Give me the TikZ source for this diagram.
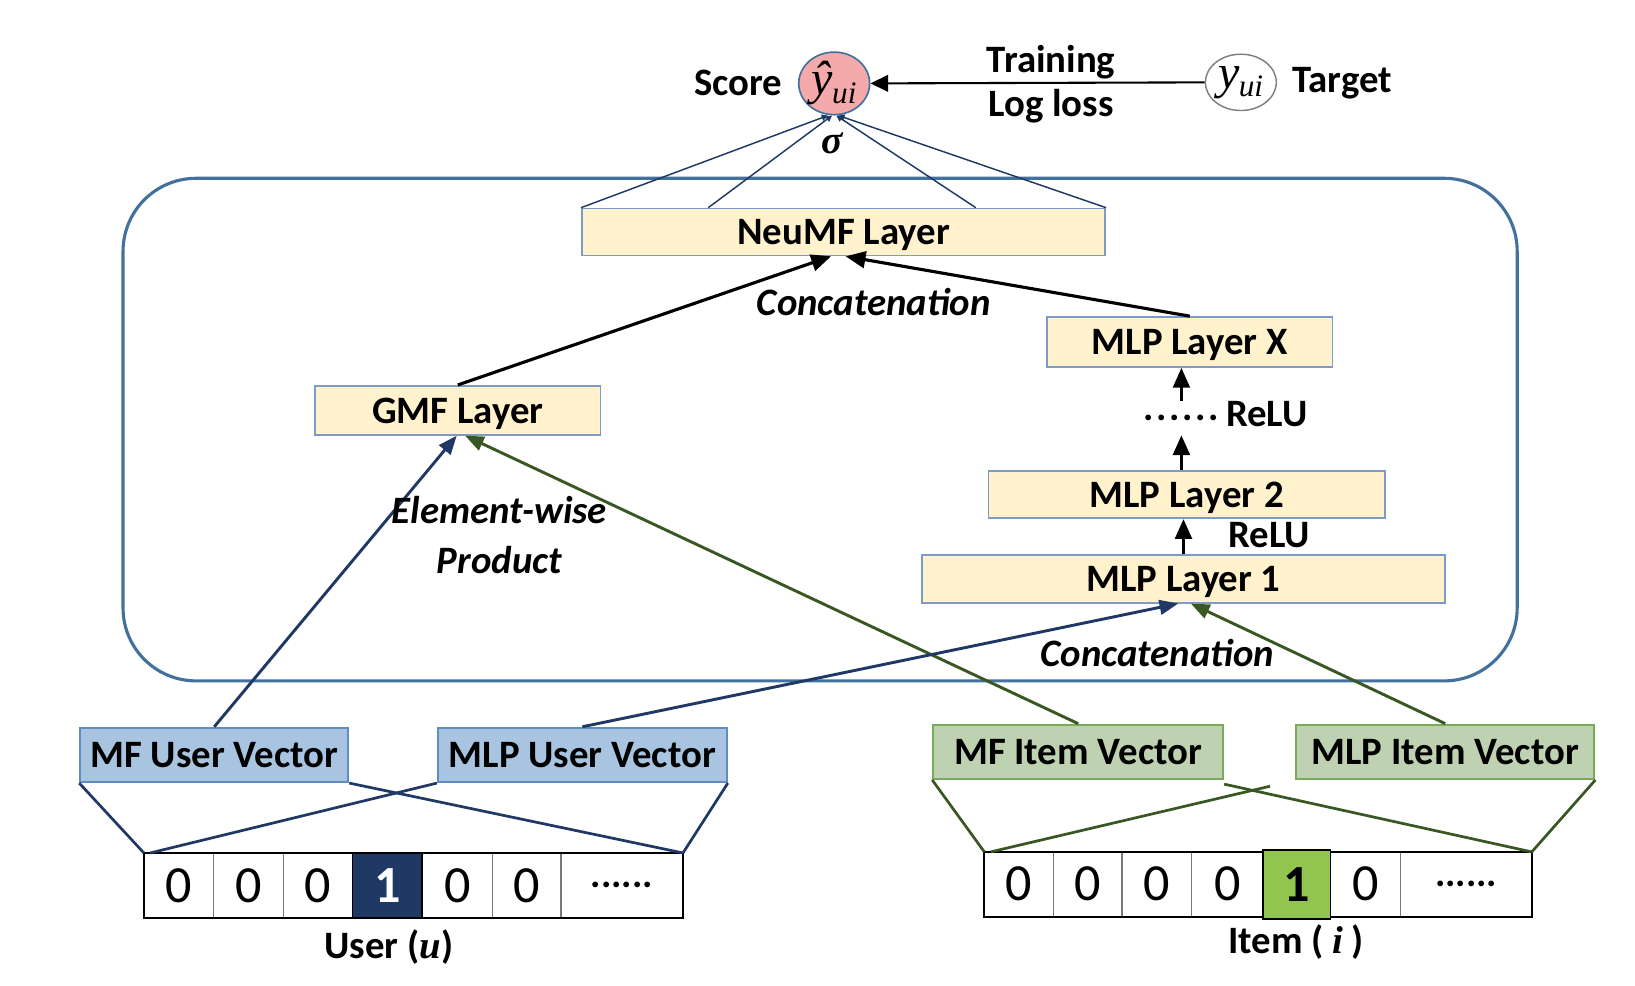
\documentclass[tikz,border=0pt]{standalone}
\usepackage{fontspec}
\setmainfont{Carlito}
\newfontfamily\tms{Liberation Serif}
\usetikzlibrary{arrows.meta,shapes.geometric,calc}
\definecolor{bigb}{RGB}{65,113,156}
\definecolor{layerf}{RGB}{255,242,204}
\definecolor{layerb}{RGB}{125,155,200}
\definecolor{uvecf}{RGB}{169,196,224}
\definecolor{uvecb}{RGB}{95,140,195}
\definecolor{ivecf}{RGB}{190,210,178}
\definecolor{ivecb}{RGB}{120,170,90}
\definecolor{navy}{RGB}{31,56,100}
\definecolor{dgreen}{RGB}{56,87,35}
\definecolor{pinkf}{RGB}{244,170,170}
\definecolor{onegreen}{RGB}{146,196,80}
\definecolor{cellg}{RGB}{120,120,120}
\newcommand\lblfont{\fontsize{18.6}{22}\selectfont\bfseries}
\newcommand\itlfont{\fontsize{18.6}{22}\selectfont\bfseries\itshape}
\newcommand\cellfont{\fontsize{25}{27}\selectfont}
\tikzset{
  lbl/.style={font=\lblfont, inner sep=0pt},
  itl/.style={font=\itlfont, inner sep=0pt, align=center},
  layer/.style={draw=layerb, fill=layerf, line width=0.8pt, inner sep=0pt, text depth=0pt, font=\lblfont},
  uvec/.style={draw=uvecb, fill=uvecf, line width=1pt, inner sep=0pt, text depth=0pt, minimum height=26pt, font=\lblfont},
  ivec/.style={draw=ivecb, fill=ivecf, line width=1pt, inner sep=0pt, text depth=0pt, minimum height=26pt, font=\lblfont},
  cell/.style={draw=cellg, line width=0.6pt, inner sep=0pt, outer sep=0pt, minimum height=31pt, font=\cellfont},
  blk/.style={line width=1.5pt, -{Triangle[length=9.5pt,width=8pt]}},
  nav/.style={draw=navy, line width=1.4pt, -{Triangle[length=9pt,width=7pt]}},
  grn/.style={draw=dgreen, line width=1.4pt, -{Triangle[length=9pt,width=7pt]}},
  fan/.style={draw=navy, line width=0.7pt, -{Triangle[length=3pt,width=3pt]}},
  nline/.style={draw=navy, line width=1.3pt},
  gline/.style={draw=dgreen, line width=1.3pt},
}
\begin{document}
\begin{tikzpicture}[x=0.5pt,y=-0.5pt]
\useasboundingbox (0,0) rectangle (1568,945);
% big container
\draw[bigb, line width=1.5pt, rounded corners=35pt] (118,171) rectangle (1455,653);

% top: score / target
\node[ellipse, draw=bigb, fill=pinkf, line width=0.8pt, minimum width=34pt, minimum height=30pt, inner sep=0pt] (score) at (800,80)
  {\tms\itshape\fontsize{23}{23}\selectfont ŷ\kern-0.5pt\raisebox{-4pt}{\fontsize{15}{15}\selectfont ui}};
\node[ellipse, draw=gray, fill=white, line width=0.7pt, minimum width=34pt, minimum height=27pt, inner sep=0pt] (target) at (1190,79)
  {\tms\itshape\fontsize{23}{23}\selectfont y\kern-0.5pt\raisebox{-4pt}{\fontsize{15}{15}\selectfont ui}};
\node[lbl] (scorelbl) at (708,80) {Score};
\node[lbl] (targetlbl) at (1287,80) {Target};
\node[lbl] (training) at (1008,60) {Training};
\node[lbl] (logloss) at (1008,102) {Log loss};
\draw[line width=1pt, -{Triangle[length=8.5pt,width=8pt]}] (target.west) -- (score.east);
\node[inner sep=0pt, font={\tms\bfseries\itshape\fontsize{19}{19}\selectfont}] (sigma) at (798,137) {σ};

% layers
\node[layer, minimum width=251pt, minimum height=22.5pt] (neumf) at (809,222.5) {NeuMF Layer};
\node[layer, minimum width=137pt, minimum height=23.5pt] (gmf) at (439,393.5) {GMF Layer};
\node[layer, minimum width=137pt, minimum height=24pt] (mlpx) at (1141,328) {MLP Layer X};
\node[layer, minimum width=190pt, minimum height=22.5pt] (mlp2) at (1138,474.5) {MLP Layer 2};
\node[layer, minimum width=251pt, minimum height=23pt] (mlp1) at (1135,555) {MLP Layer 1};

% fan from NeuMF to score
\draw[fan] (neumf.north west) -- ([xshift=-3pt]score.south);
\draw[fan] ($(neumf.north west)+(122,0)$) -- ([xshift=-1pt]score.south);
\draw[fan] ($(neumf.north east)+(-125,0)$) -- ([xshift=1pt]score.south);
\draw[fan] (neumf.north east) -- ([xshift=2pt]score.south);

% concatenation into NeuMF
\draw[blk] (gmf.north) -- ([xshift=-6pt]neumf.south);
\draw[blk] (mlpx.north) -- ([xshift=1pt]neumf.south);
\node[itl] (concat1) at (838,290) {Concatenation};

% MLP tower
\node[inner sep=0pt, minimum height=16pt, font=\lblfont] (dots) at (1133,401) {.\kern1.3pt.\kern1.3pt.\kern1.3pt.\kern1.3pt.\kern1.3pt.};
\node[lbl] (relu2) at (1215,397) {ReLU};
\node[lbl] (relu1) at (1217,513) {ReLU};
\draw[blk] (mlp1.north) -- (mlp1.north |- mlp2.south);
\draw[blk] (mlp2.north -| dots.south) -- (dots.south);
\draw[blk] (dots.north) -- (dots.north |- mlpx.south);

% vectors
\node[uvec, minimum width=128.5pt] (mfu) at (205.5,724) {MF User Vector};
\node[uvec, minimum width=138.5pt] (mlpu) at (558.5,724) {MLP User Vector};
\node[ivec, minimum width=139pt] (mfi) at (1034,721) {MF Item Vector};
\node[ivec, minimum width=143pt] (mlpi) at (1386,721) {MLP Item Vector};

% arrows from vectors
\draw[nav] (mfu.north) -- ([xshift=-0.5pt]gmf.south);
\draw[grn] (mfi.north) -- ([xshift=3.5pt]gmf.south);
\draw[nav] (mlpu.north) -- ([xshift=-2.5pt]mlp1.south);
\draw[grn] (mlpi.north) -- ([xshift=3.5pt]mlp1.south);
\node[itl] (ewp) at (479,513) {Element-wise\\[2pt]Product};
\node[itl] (concat2) at (1110,626) {Concatenation};

% user one-hot
\node[cell, minimum width=33.5pt] (u1) at (171.5,849) {0};
\node[cell, minimum width=33.5pt] (u2) at (238.5,849) {0};
\node[cell, minimum width=33pt] (u3) at (305,849) {0};
\node[cell, minimum width=33.5pt] (u4) at (371.5,849) {};
\node[cell, minimum width=33.5pt] (u5) at (438.5,849) {0};
\node[cell, minimum width=33pt] (u6) at (505,849) {0};
\node[cell, minimum width=58.5pt, font=\lblfont] (u7) at (596.5,849) {......};
\draw[line width=0.9pt] (u1.north west) rectangle (u7.south east);
\node[cell, draw=black, line width=0.9pt, minimum width=33.5pt, fill=navy, text=white, font=\cellfont\bfseries] (u4on) at (371.5,849) {1};
\node[font=\lblfont, inner sep=0pt] (userlbl) at (373,908) {User (\tms\itshape u\normalfont\bfseries)};

% item one-hot
\node[cell, minimum width=33pt] (i1) at (977,848) {0};
\node[cell, minimum width=33pt] (i2) at (1043,848) {0};
\node[cell, minimum width=33.5pt] (i3) at (1109.5,848) {0};
\node[cell, minimum width=34pt] (i4) at (1177,848) {0};
\node[cell, minimum width=32.5pt] (i5) at (1243.5,848) {};
\node[cell, minimum width=33.5pt] (i6) at (1309.5,848) {0};
\node[cell, minimum width=63pt, font=\lblfont] (i7) at (1406,848) {......};
\draw[line width=0.9pt] (i1.north west) rectangle (i7.south east);
\node[cell, draw=black, line width=0.9pt, minimum width=32.5pt, minimum height=33pt, fill=onegreen, font=\cellfont\bfseries] (i5on) at (1243.5,848) {1};
\node[font=\lblfont, inner sep=0pt] (itemlbl) at (1243,903) {Item ( \tms\itshape i\normalfont\bfseries\ )};

% embedding lines
\draw[nline] (mfu.south west) -- (u1.north west);
\draw[nline] (mfu.south east) -- (u7.north east);
\draw[nline] (mlpu.south west) -- ([xshift=3pt]u1.north west);
\draw[nline] (mlpu.south east) -- (u7.north east);
\draw[gline] (mfi.south west) -- (i1.north west);
\draw[gline] ([yshift=-2pt]mfi.south east) -- (i7.north east);
\draw[gline] ([xshift=-12pt,yshift=-3pt]mlpi.south west) -- ([xshift=3pt]i1.north west);
\draw[gline] (mlpi.south east) -- (i7.north east);
\end{tikzpicture}
\end{document}
